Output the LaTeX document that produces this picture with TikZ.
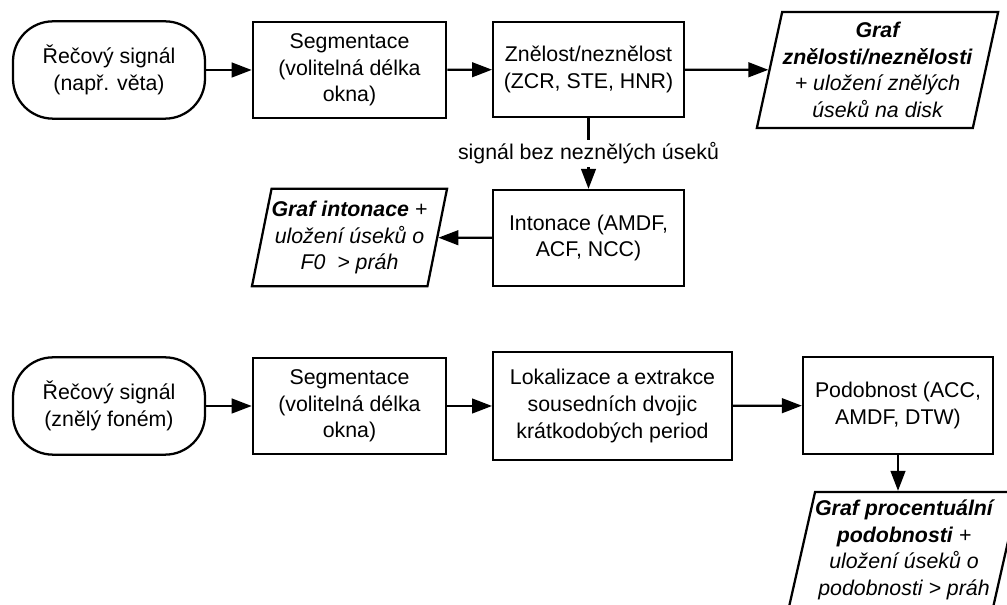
\documentclass[tikz,border=0pt]{standalone}
\usepackage{fontspec}
\setmainfont{Liberation Sans}
\usetikzlibrary{arrows.meta,shapes.geometric}

\begin{document}
\begin{tikzpicture}[x=0.75pt,y=-0.75pt,
    font=\fontsize{16}{20}\selectfont,
    box/.style={draw, line width=1.7pt, align=center, inner sep=2pt},
    term/.style={box, rounded corners=30pt, minimum width=144pt, minimum height=73pt},
    proc/.style={box, minimum width=145pt, minimum height=72pt},
    data/.style={box, trapezium, trapezium left angle=76, trapezium right angle=104,
        trapezium stretches=true, inner xsep=0pt, font=\fontsize{16}{20}\selectfont\itshape},
    arr/.style={line width=1.7pt, -{Triangle[length=15pt,width=11pt]}},
    lbl/.style={fill=white, inner sep=2pt}
    ]
    %%Background
    \useasboundingbox (0,0) rectangle (1007,605);

    %% Upper chain
    \node[term] (sig1) at (109,70) {Řečový signál\\(např. věta)};
    \node[proc] (seg1) at (349.5,70) {Segmentace\\(volitelná délka\\okna)};
    \node[proc, minimum width=143pt, minimum height=71pt] (zn) at (588.5,69.5) {Znělost/neznělost\\(ZCR, STE, HNR)};
    \node[data, minimum width=181pt, minimum height=87pt] (grzn) at (877.5,70)
        {\textbf{Graf}\\\textbf{znělosti/neznělosti}\\+ uložení znělých\\úseků na disk};
    \node[proc, minimum width=143pt] (into) at (588.5,238) {Intonace (AMDF,\\ACF, NCC)};
    \node[data, minimum width=145pt, minimum height=73pt] (grint) at (349.5,237.5)
        {\textbf{Graf intonace} +\\uložení úseků o\\F0\ \ > práh};

    \draw[arr] (sig1) -- (seg1);
    \draw[arr] (seg1) -- (zn);
    \draw[arr] (zn) -- (grzn);
    \draw[arr] (zn) -- node[lbl]{signál bez neznělých úseků} (into);
    \draw[arr] (into) -- (grint);

    %% Lower chain
    \node[term] (sig2) at (109,406) {Řečový signál\\(znělý foném)};
    \node[proc] (seg2) at (349.5,406) {Segmentace\\(volitelná délka\\okna)};
    \node[proc, minimum width=179pt, minimum height=81pt] (lok) at (612.5,406)
        {Lokalizace a extrakce\\sousedních dvojic\\krátkodobých period};
    \node[proc, minimum width=142.5pt, minimum height=73pt] (pod) at (898,405.5) {Podobnost (ACC,\\AMDF, DTW)};
    \node[data, minimum width=173pt, minimum height=87pt] (grpod) at (904,550)
        {\textbf{Graf procentuální}\\\textbf{podobnosti} +\\uložení úseků o\\podobnosti > práh};

    \draw[arr] (sig2) -- (seg2);
    \draw[arr] (seg2) -- (lok);
    \draw[arr] (lok) -- (pod);
    \draw[arr] (pod.south) -- (pod.south |- grpod.north);
\end{tikzpicture}
\end{document}
